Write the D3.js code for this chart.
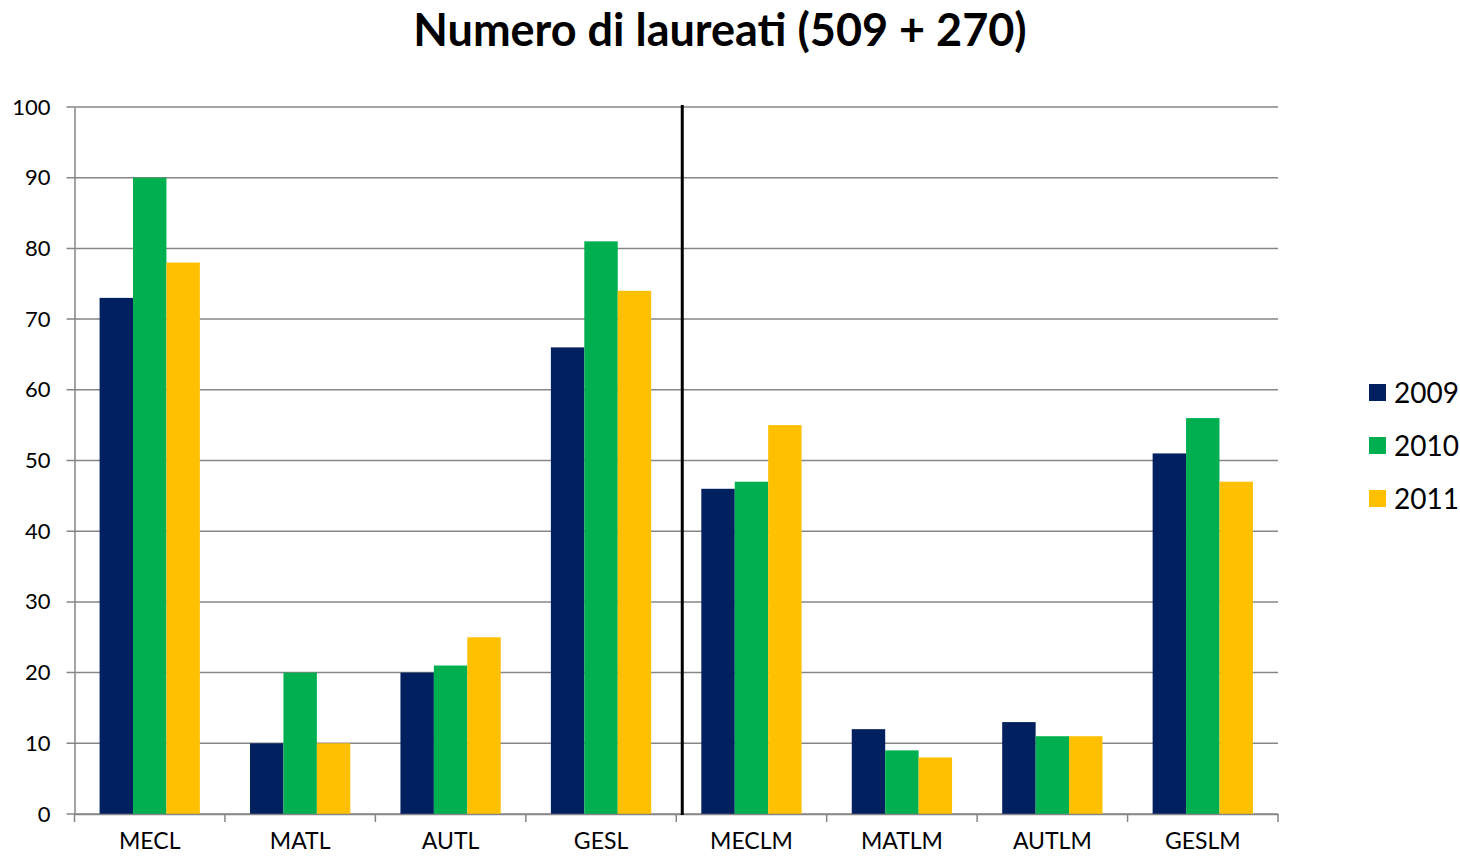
<!DOCTYPE html>
<html>
<head>
<meta charset="utf-8">
<script src="https://d3js.org/d3.v7.min.js"></script>
<style>
  body { margin: 0; background: #fff; }
  svg { display: block; font-family: Lato, "Open Sans", sans-serif; }
</style>
</head>
<body>
<div id="holder"></div>
<script>
  // Data
  const categories = ['MECL', 'MATL', 'AUTL', 'GESL', 'MECLM', 'MATLM', 'AUTLM', 'GESLM'];
  const years = ['2009', '2010', '2011'];
  const v2009 = [73, 10, 20, 66, 46, 12, 13, 51];
  const v2010 = [90, 20, 21, 81, 47, 9, 11, 56];
  const v2011 = [78, 10, 25, 74, 55, 8, 11, 47];
  const yTicks = [0, 10, 20, 30, 40, 50, 60, 70, 80, 90, 100];
  const colors = ['#002060', '#00B050', '#FFC000'];
  const title = 'Numero di laureati (509 + 270)';

  const series = [v2009, v2010, v2011];
  const rows = categories.map((c, i) => ({ cat: c, vals: series.map((s) => s[i]) }));

  // Layout
  const w = 1460, h = 856;
  const plotLeft = 74.5, plotRight = 1278, plotTop = 107, plotBottom = 814;

  const svg = d3.select('#holder').append('svg').attr('width', w).attr('height', h);

  const x0 = d3.scaleBand().domain(categories).range([plotLeft, plotRight]).paddingInner(0).paddingOuter(0);
  const x1 = d3.scaleBand().domain(years).range([0, x0.bandwidth()]).paddingOuter(0.75).paddingInner(0);
  const y = d3.scaleLinear().domain([0, 100]).range([plotBottom, plotTop]);

  // Gridlines
  svg.append('g')
    .selectAll('line')
    .data(yTicks)
    .enter()
    .append('line')
    .attr('x1', plotLeft - 8)
    .attr('x2', plotRight)
    .attr('y1', (d) => y(d))
    .attr('y2', (d) => y(d))
    .attr('stroke', '#868686')
    .attr('stroke-width', 1.5);

  // Y axis
  const yAxis = d3.axisLeft(y).tickValues(yTicks).tickSize(0).tickPadding(24);
  const gy = svg.append('g').attr('transform', 'translate(' + plotLeft + ',0)').call(yAxis);
  gy.select('.domain').attr('stroke', '#868686').attr('stroke-width', 1.5);
  gy.selectAll('text').attr('font-size', 22).attr('fill', '#000').attr('font-family', 'Lato, sans-serif');

  // Bars
  const groups = svg.append('g')
    .selectAll('g')
    .data(rows)
    .enter()
    .append('g')
    .attr('transform', (d) => 'translate(' + x0(d.cat) + ',0)');

  groups.selectAll('rect')
    .data((d) => d.vals.map((v, i) => ({ year: years[i], v: v, i: i })))
    .enter()
    .append('rect')
    .attr('x', (d) => x1(d.year))
    .attr('width', x1.bandwidth())
    .attr('y', (d) => y(d.v))
    .attr('height', (d) => y(0) - y(d.v))
    .attr('fill', (d) => colors[d.i]);

  // X axis
  const xAxis = d3.axisBottom(x0).tickSize(0).tickPadding(19);
  const gx = svg.append('g').attr('transform', 'translate(0,' + plotBottom + ')').call(xAxis);
  gx.select('.domain').attr('stroke', '#868686').attr('stroke-width', 1.5);
  gx.selectAll('text').attr('font-size', 23).attr('fill', '#000').attr('font-family', 'Lato, sans-serif');

  // Category boundary ticks
  const bounds = categories.map((c) => x0(c)).concat([plotRight]);
  svg.append('g')
    .selectAll('line')
    .data(bounds)
    .enter()
    .append('line')
    .attr('x1', (d) => d)
    .attr('x2', (d) => d)
    .attr('y1', plotBottom)
    .attr('y2', plotBottom + 8)
    .attr('stroke', '#868686')
    .attr('stroke-width', 1.5);

  // Separator between triennale and magistrale
  const sepX = x0('MECLM') + 6;
  svg.append('line')
    .attr('x1', sepX)
    .attr('x2', sepX)
    .attr('y1', plotTop - 2)
    .attr('y2', plotBottom + 1)
    .attr('stroke', '#000')
    .attr('stroke-width', 3);

  // Title
  svg.append('text')
    .attr('x', 720)
    .attr('y', 46)
    .attr('text-anchor', 'middle')
    .attr('font-size', 45)
    .attr('font-weight', 'bold')
    .text(title);

  // Legend
  const legend = svg.append('g')
    .selectAll('g')
    .data(years)
    .enter()
    .append('g')
    .attr('transform', (d, i) => 'translate(1369,' + (384 + i * 53) + ')');

  legend.append('rect')
    .attr('width', 17)
    .attr('height', 17)
    .attr('fill', (d, i) => colors[i]);

  legend.append('text')
    .attr('x', 25)
    .attr('y', 19)
    .attr('font-size', 28)
    .text((d) => d);
</script>
</body>
</html>
